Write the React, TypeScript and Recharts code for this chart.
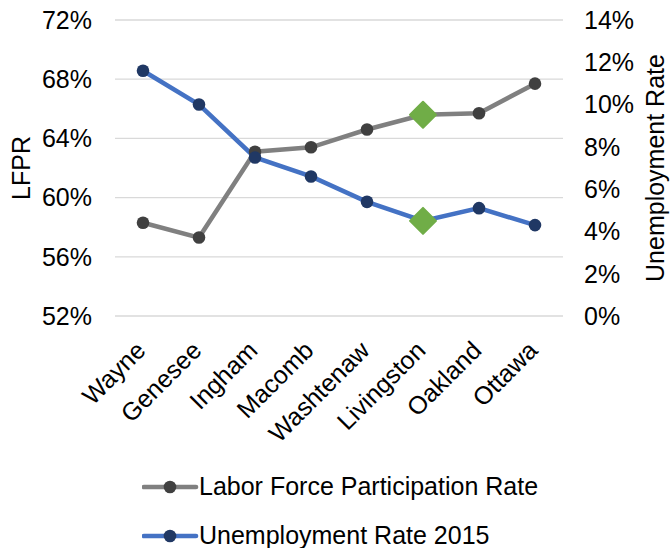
import React from 'react';
import { LineChart, Line, XAxis, YAxis, CartesianGrid, Legend } from 'recharts';

const counties = ['Wayne', 'Genesee', 'Ingham', 'Macomb', 'Washtenaw', 'Livingston', 'Oakland', 'Ottawa'];
const lfpr = [58.3, 57.3, 63.1, 63.4, 64.6, 65.6, 65.7, 67.7];
const unemployment = [11.6, 10.0, 7.5, 6.6, 5.4, 4.5, 5.1, 4.3];
const leftTicks = [52, 56, 60, 64, 68, 72];
const rightTicks = [0, 2, 4, 6, 8, 10, 12, 14];
const highlight = 'Livingston';

const seriesNames = { lfpr: 'Labor Force Participation Rate', unemp: 'Unemployment Rate 2015' };

const data = counties.map((c, i) => ({ county: c, lfpr: lfpr[i], unemp: unemployment[i] }));

const FONT = '"Liberation Sans", Arial, sans-serif';
const FS = 25;

const makeDot = (fill: string) => (props: any) => {
  const { cx, cy, payload, index } = props;
  if (cx == null || cy == null) return <g key={index} />;
  if (payload.county === highlight) {
    const r = 13;
    return (
      <path
        key={index}
        d={`M${cx},${cy - r} L${cx + r},${cy} L${cx},${cy + r} L${cx - r},${cy} Z`}
        fill="#70AD47"
        stroke="#70AD47"
        strokeWidth={2}
        strokeLinejoin="round"
      />
    );
  }
  return <circle key={index} cx={cx} cy={cy} r={6.3} fill={fill} />;
};

const XTick = (props: any) => {
  const { x, y, payload } = props;
  return (
    <text
      x={x + 4}
      y={y + 28}
      textAnchor="end"
      transform={`rotate(-45, ${x + 4}, ${y + 28})`}
      fontSize={FS}
      fontFamily={FONT}
      fill="#000"
    >
      {payload.value}
    </text>
  );
};

const LeftLabel = (props: any) => {
  const vb = props.viewBox;
  const x = vb.x + 21;
  const y = vb.y + vb.height / 2;
  return (
    <text x={x} y={y} transform={`rotate(-90, ${x}, ${y})`} textAnchor="middle" dominantBaseline="central" fontSize={FS} fontFamily={FONT} fill="#000">
      LFPR
    </text>
  );
};

const RightLabel = (props: any) => {
  const vb = props.viewBox;
  const x = vb.x + 101;
  const y = vb.y + vb.height / 2;
  return (
    <text x={x} y={y} transform={`rotate(-90, ${x}, ${y})`} textAnchor="middle" fontSize={FS} fontFamily={FONT} fill="#000">
      Unemployment Rate
    </text>
  );
};

const legendItems = [
  { key: 'lfpr', line: '#808080', dot: '#404040' },
  { key: 'unemp', line: '#4472C4', dot: '#203864' },
];

const LegendContent = () => (
  <div style={{ fontFamily: FONT, fontSize: FS, color: '#000' }}>
    {legendItems.map((it) => (
      <div key={it.key} style={{ display: 'flex', alignItems: 'center', height: 49, paddingLeft: 142 }}>
        <svg width={57} height={20} style={{ display: 'block' }}>
          <line x1={2} y1={10} x2={54} y2={10} stroke={it.line} strokeWidth={4.7} strokeLinecap="round" />
          <circle cx={28} cy={10} r={6.3} fill={it.dot} />
        </svg>
        <span style={{ whiteSpace: 'nowrap', lineHeight: '25px' }}>{(seriesNames as any)[it.key]}</span>
      </div>
    ))}
  </div>
);

export default function App() {
  return (
    <div style={{ position: 'absolute', left: 0, top: 0, width: 670, height: 548, background: '#fff', overflow: 'hidden' }}>
      <LineChart width={670} height={548} data={data} margin={{ top: 20, right: 0, bottom: 0, left: 0 }}>
        <CartesianGrid yAxisId="left" vertical={false} stroke="#d9d9d9" strokeWidth={1.3} />
        <XAxis
          dataKey="county"
          axisLine={false}
          tickLine={false}
          interval={0}
          height={232}
          padding={{ left: 28, right: 28 }}
          tick={<XTick />}
        />
        <YAxis
          yAxisId="left"
          domain={[52, 72]}
          ticks={leftTicks}
          width={115}
          axisLine={false}
          tickLine={false}
          tickSize={0}
          tickMargin={23}
          tickFormatter={(v: number) => `${v}%`}
          tick={{ fontSize: FS, fontFamily: FONT, fill: '#000' }}
          label={<LeftLabel />}
        />
        <YAxis
          yAxisId="right"
          orientation="right"
          domain={[0, 14]}
          ticks={rightTicks}
          width={107}
          axisLine={false}
          tickLine={false}
          tickSize={0}
          tickMargin={21}
          tickFormatter={(v: number) => `${v}%`}
          tick={{ fontSize: FS, fontFamily: FONT, fill: '#000' }}
          label={<RightLabel />}
        />
        <Line
          yAxisId="left"
          dataKey="lfpr"
          name={seriesNames.lfpr}
          stroke="#808080"
          strokeWidth={4.5}
          dot={makeDot('#404040')}
          activeDot={false}
          isAnimationActive={false}
        />
        <Line
          yAxisId="right"
          dataKey="unemp"
          name={seriesNames.unemp}
          stroke="#4472C4"
          strokeWidth={4.5}
          dot={makeDot('#203864')}
          activeDot={false}
          isAnimationActive={false}
        />
        <Legend
          layout="horizontal"
          verticalAlign="middle"
          align="center"
          content={<LegendContent />}
          wrapperStyle={{ top: 462, left: 0, width: 670 }}
        />
      </LineChart>
    </div>
  );
}
